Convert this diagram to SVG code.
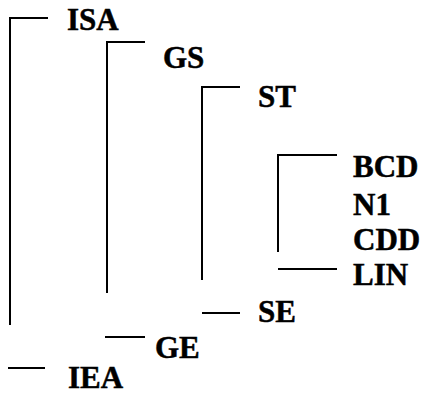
<svg xmlns="http://www.w3.org/2000/svg" width="426" height="406" viewBox="0 0 426 406">
<style>
.t{font-family:"Liberation Serif","Times New Roman",serif;font-weight:bold;font-size:31px;fill:#000;stroke:#000;stroke-width:0.5}
.c{stroke:#000;stroke-width:2;fill:none}
</style>
<rect width="426" height="406" fill="#fff"/>
<g id="connectors">
<path class="c" d="M10,325V18H48"/>
<path class="c" d="M107,293V42H145"/>
<path class="c" d="M202,280V87H240"/>
<path class="c" d="M278,252V155H337"/>
<path class="c" d="M278,269H337"/>
<path class="c" d="M202,313H240"/>
<path class="c" d="M105,337H145"/>
<path class="c" d="M8,368H45"/>
</g>
<g id="ISA"><text class="t" x="67" y="30">ISA</text></g>
<g id="GS"><text class="t" x="163" y="68">GS</text></g>
<g id="ST"><text class="t" x="258" y="107">ST</text></g>
<g id="BCD"><text class="t" x="353" y="177">BCD</text></g>
<g id="N1"><text class="t" x="353" y="215">N1</text></g>
<g id="CDD"><text class="t" x="353" y="250">CDD</text></g>
<g id="LIN"><text class="t" x="353" y="285">LIN</text></g>
<g id="SE"><text class="t" x="258" y="322">SE</text></g>
<g id="GE"><text class="t" x="155" y="358">GE</text></g>
<g id="IEA"><text class="t" x="68" y="388">IEA</text></g>
</svg>
